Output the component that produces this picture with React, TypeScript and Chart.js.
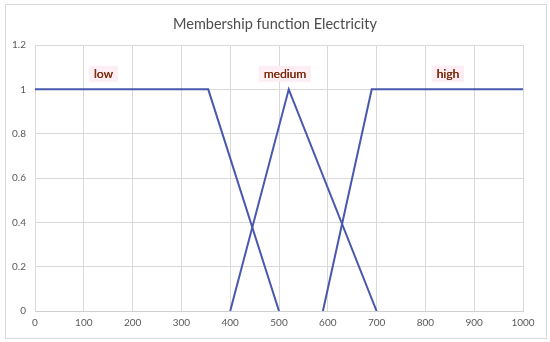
import React, { useEffect, useRef } from "react";
import { Chart, registerables } from "chart.js";

Chart.register(...registerables);

const chartTitle = "Membership function Electricity";
const lowX = [0, 355, 500];
const lowY = [1, 1, 0];
const mediumX = [400, 520, 700];
const mediumY = [0, 1, 0];
const highX = [590, 690, 1000];
const highY = [0, 1, 1];
const labelTexts = ["low", "medium", "high"];
const labelX = [140, 512, 846];
const labelY = [1.07, 1.07, 1.07];

const toPoints = (xs: number[], ys: number[]) => xs.map((x, i) => ({ x, y: ys[i] }));

const labelPlugin = {
  id: "termLabels",
  afterDatasetsDraw(chart: any) {
    const { ctx, scales } = chart;
    ctx.save();
    ctx.font = "12px Lato";
    ctx.textAlign = "center";
    ctx.textBaseline = "middle";
    labelTexts.forEach((t, i) => {
      const px = scales.x.getPixelForValue(labelX[i]);
      const py = scales.y.getPixelForValue(labelY[i]);
      const w = ctx.measureText(t).width + 10;
      ctx.fillStyle = "#fdedf4";
      ctx.fillRect(px - w / 2, py - 8, w, 16);
      ctx.fillStyle = "#7a2a08";
      ctx.fillText(t, px, py);
      ctx.fillText(t, px + 0.3, py);
    });
    ctx.font = "14.5px Lato";
    ctx.fillStyle = "#4d4d4d";
    ctx.fillText(chartTitle, chart.width / 2, 24);
    ctx.restore();
  },
};

export default function App() {
  const ref = useRef<HTMLCanvasElement>(null);
  useEffect(() => {
    const lineColor = "#4858ad";
    const common = { borderColor: lineColor, borderWidth: 2, pointRadius: 0, showLine: true, fill: false, tension: 0 };
    const chart = new Chart(ref.current as HTMLCanvasElement, {
      type: "scatter",
      data: {
        datasets: [
          { label: "low", data: toPoints(lowX, lowY), ...common },
          { label: "medium", data: toPoints(mediumX, mediumY), ...common },
          { label: "high", data: toPoints(highX, highY), ...common },
        ],
      },
      options: {
        animation: false,
        responsive: false,
        maintainAspectRatio: false,
        layout: { padding: { left: 0, right: 27, top: 45, bottom: 0 } },
        plugins: {
          legend: { display: false },
          tooltip: { enabled: false },
          title: { display: false },
        },
        scales: {
          x: {
            type: "linear",
            min: 0,
            max: 1000,
            ticks: { stepSize: 100, color: "#595959", font: { family: "Lato", size: 10 }, padding: 6, maxRotation: 0,
              callback: (v: any) => String(v) },
            grid: { color: "#d9d9d9", drawTicks: false },
            border: { color: "#d0d0d0", width: 1 },
            afterFit: (s: any) => { s.height = 31; },
          },
          y: {
            min: 0,
            max: 1.2,
            ticks: { stepSize: 0.2, color: "#595959", font: { family: "Lato", size: 10 }, padding: 9,
              callback: (v: any) => String(Math.round(Number(v) * 10) / 10) },
            grid: { color: "#d9d9d9", drawTicks: false },
            border: { color: "#d9d9d9" },
            afterFit: (s: any) => { s.width = 35; },
          },
        },
      },
      plugins: [labelPlugin],
    });
    return () => chart.destroy();
  }, []);
  return (
    <div style={{ position: "fixed", left: 0, top: 0, width: 550, height: 342, background: "#fff" }}>
      <canvas ref={ref} width={550} height={342} style={{ position: "absolute", left: 0, top: 0 }} />
      <div style={{ position: "absolute", left: 5, top: 4, width: 540, height: 333, border: "1px solid #d9d9d9", pointerEvents: "none" }} />
    </div>
  );
}
